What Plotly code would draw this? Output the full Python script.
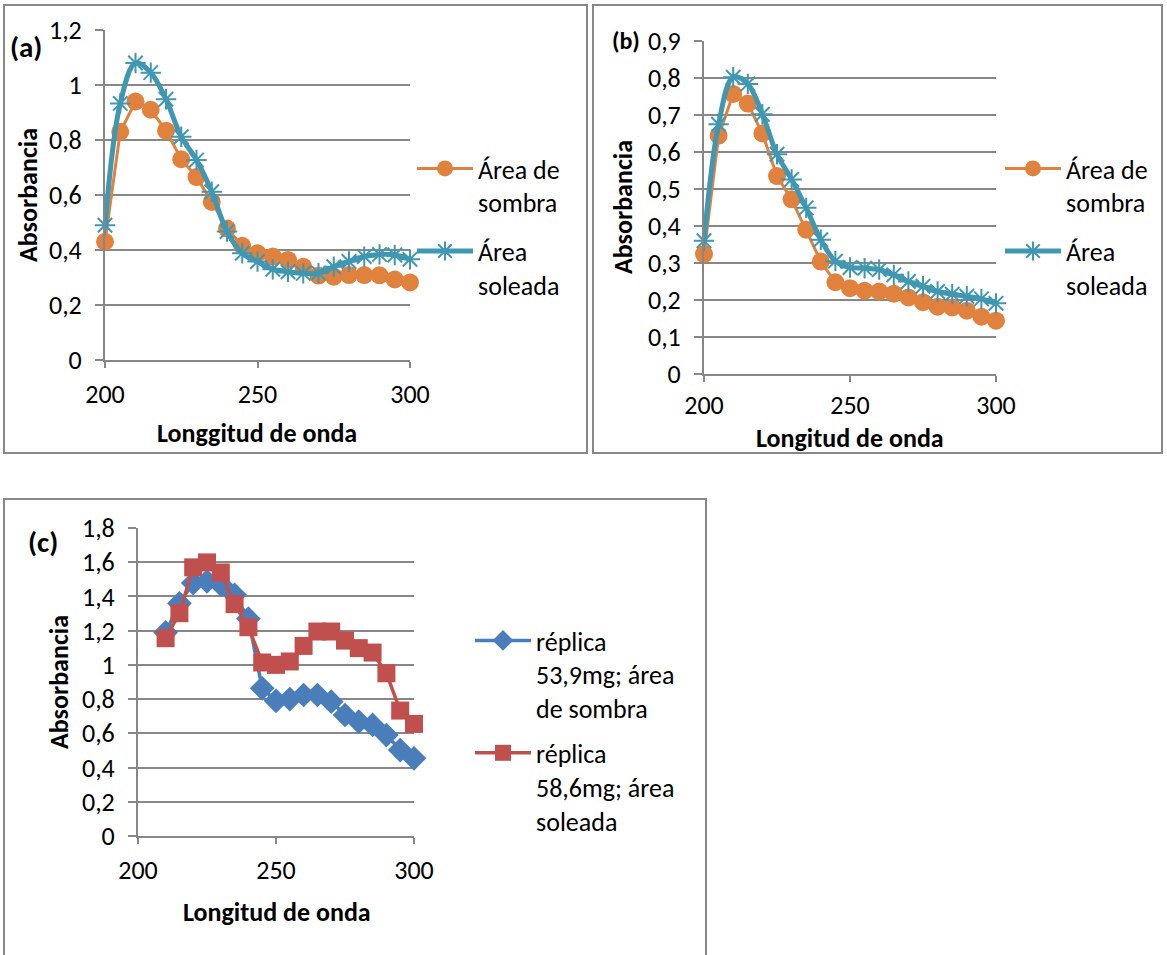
import plotly.graph_objects as go

# ---------------------------------------------------------------- data
WAVELENGTH_AB = list(range(200, 301, 5))
A_SOMBRA = [0.43, 0.83, 0.94, 0.91, 0.834, 0.73, 0.665, 0.575, 0.478, 0.415, 0.388,
            0.376, 0.364, 0.339, 0.307, 0.303, 0.309, 0.309, 0.308, 0.293, 0.282]
A_SOLEADA = [0.49, 0.933, 1.08, 1.045, 0.948, 0.812, 0.727, 0.612, 0.467, 0.388, 0.358,
             0.33, 0.321, 0.315, 0.316, 0.339, 0.358, 0.376, 0.384, 0.382, 0.366]
B_SOMBRA = [0.324, 0.644, 0.757, 0.731, 0.65, 0.535, 0.472, 0.39, 0.304, 0.248, 0.232,
            0.225, 0.223, 0.217, 0.207, 0.194, 0.182, 0.18, 0.171, 0.155, 0.144]
B_SOLEADA = [0.36, 0.675, 0.802, 0.784, 0.702, 0.594, 0.526, 0.449, 0.363, 0.305, 0.288,
             0.286, 0.282, 0.268, 0.25, 0.237, 0.223, 0.216, 0.21, 0.203, 0.191]

WAVELENGTH_C = list(range(210, 301, 5))
C_REP_539 = [1.19, 1.36, 1.478, 1.488, 1.47, 1.41, 1.27, 0.863, 0.79, 0.80, 0.824,
             0.824, 0.785, 0.707, 0.668, 0.649, 0.59, 0.502, 0.454]
C_REP_586 = [1.156, 1.302, 1.57, 1.599, 1.54, 1.355, 1.22, 1.014, 1.0, 1.02, 1.111,
             1.195, 1.195, 1.142, 1.098, 1.072, 0.951, 0.733, 0.655]

X_TICKS = [200, 250, 300]
X_LABELS = ["200", "250", "300"]
A_YTICKS = [0, 0.2, 0.4, 0.6, 0.8, 1.0, 1.2]
A_YLABELS = ["0", "0,2", "0,4", "0,6", "0,8", "1", "1,2"]
B_YTICKS = [0, 0.1, 0.2, 0.3, 0.4, 0.5, 0.6, 0.7, 0.8, 0.9]
B_YLABELS = ["0", "0,1", "0,2", "0,3", "0,4", "0,5", "0,6", "0,7", "0,8", "0,9"]
C_YTICKS = [0, 0.2, 0.4, 0.6, 0.8, 1.0, 1.2, 1.4, 1.6, 1.8]
C_YLABELS = ["0", "0,2", "0,4", "0,6", "0,8", "1", "1,2", "1,4", "1,6", "1,8"]

NAME_SOMBRA = "Área de<br>sombra"
NAME_SOLEADA = "Área<br>soleada"
NAME_539 = "réplica<br>53,9mg; área<br>de sombra"
NAME_586 = "réplica<br>58,6mg; área<br>soleada"
Y_TITLE = "Absorbancia"
X_TITLE_A = "Longgitud de onda"
X_TITLE_BC = "Longitud de onda"

# ---------------------------------------------------------------- style
W, H = 1167, 955
FONT = "Carlito, Lato, 'Noto Sans', sans-serif"
GRAY = "#878787"
ORANGE = "#E0823D"
TEAL = "#3F97B1"
BLUE = "#4A7EBB"
RED = "#C0504D"
FS = 26


def px(x):
    return x / W


def py(y):
    return 1 - y / H


fig = go.Figure()

# panel (a)
fig.add_trace(go.Scatter(
    x=WAVELENGTH_AB, y=A_SOMBRA, name=NAME_SOMBRA, mode="lines+markers",
    line=dict(color=ORANGE, width=3), marker=dict(symbol="circle", size=18, color=ORANGE),
    xaxis="x", yaxis="y", legend="legend", legendgroup="a1", cliponaxis=False))
fig.add_trace(go.Scatter(
    x=WAVELENGTH_AB, y=A_SOLEADA, name=NAME_SOLEADA, mode="lines+markers",
    line=dict(color=TEAL, width=5, shape="spline"),
    marker=dict(symbol="asterisk-open", size=17, line=dict(color=TEAL, width=2)),
    xaxis="x", yaxis="y", legend="legend", legendgroup="a2", cliponaxis=False))

# panel (b)
fig.add_trace(go.Scatter(
    x=WAVELENGTH_AB, y=B_SOMBRA, name=NAME_SOMBRA, mode="lines+markers",
    line=dict(color=ORANGE, width=3), marker=dict(symbol="circle", size=18, color=ORANGE),
    xaxis="x2", yaxis="y2", legend="legend2", legendgroup="b1", cliponaxis=False))
fig.add_trace(go.Scatter(
    x=WAVELENGTH_AB, y=B_SOLEADA, name=NAME_SOLEADA, mode="lines+markers",
    line=dict(color=TEAL, width=5, shape="spline"),
    marker=dict(symbol="asterisk-open", size=17, line=dict(color=TEAL, width=2)),
    xaxis="x2", yaxis="y2", legend="legend2", legendgroup="b2", cliponaxis=False))

# panel (c)
fig.add_trace(go.Scatter(
    x=WAVELENGTH_C, y=C_REP_539, name=NAME_539, mode="lines+markers",
    line=dict(color=BLUE, width=3.5), marker=dict(symbol="diamond", size=19, color=BLUE),
    xaxis="x3", yaxis="y3", legend="legend3", legendgroup="c1", cliponaxis=False))
fig.add_trace(go.Scatter(
    x=WAVELENGTH_C, y=C_REP_586, name=NAME_586, mode="lines+markers",
    line=dict(color=RED, width=3.5), marker=dict(symbol="square", size=18, color=RED),
    xaxis="x3", yaxis="y3", legend="legend3", legendgroup="c2", cliponaxis=False))


def xaxis(domain, anchor, label_gap=4):
    return dict(
        domain=domain, anchor=anchor, range=[200, 300], tickmode="array",
        tickvals=X_TICKS, ticktext=X_LABELS, ticks="outside", ticklen=6,
        tickwidth=2, tickcolor=GRAY, showline=True, linecolor=GRAY, linewidth=2,
        showgrid=False, zeroline=False, ticklabelstandoff=label_gap, automargin=False,
        tickfont=dict(size=FS, color="#000"))


def yaxis(domain, anchor, top, ticks, labels):
    return dict(
        domain=domain, anchor=anchor, range=[0, top], tickmode="array",
        tickvals=ticks, ticktext=labels, ticks="outside", ticklen=8,
        tickwidth=2, tickcolor=GRAY, showline=True, linecolor=GRAY, linewidth=2,
        showgrid=True, gridcolor=GRAY, gridwidth=2, zeroline=False,
        ticklabelstandoff=8, automargin=False, tickfont=dict(size=FS, color="#000"))


def legend(x, y, gap):
    return dict(
        x=x, y=y, xanchor="left", yanchor="top", bgcolor="rgba(0,0,0,0)",
        itemwidth=56, valign="top", tracegroupgap=gap, traceorder="grouped",
        font=dict(size=FS, color="#000"))


def label(text, x, y, size=FS, angle=0):
    return dict(text=f"<b>{text}</b>", x=px(x), y=py(y), xref="paper", yref="paper",
                xanchor="center", yanchor="middle", showarrow=False, textangle=angle,
                font=dict(size=size, color="#000"))


fig.update_layout(
    width=W, height=H, margin=dict(l=0, r=0, t=0, b=0, autoexpand=False),
    paper_bgcolor="white", plot_bgcolor="white",
    font=dict(family=FONT, size=FS, color="#000"),
    showlegend=True,
    xaxis=xaxis([px(105), px(410)], "y"),
    yaxis=yaxis([py(360), py(30)], "x", 1.2, A_YTICKS, A_YLABELS),
    xaxis2=xaxis([px(704), px(996)], "y2", label_gap=1),
    yaxis2=yaxis([py(374), py(41)], "x2", 0.9, B_YTICKS, B_YLABELS),
    xaxis3=xaxis([px(138), px(414)], "y3"),
    yaxis3=yaxis([py(836), py(528)], "x3", 1.8, C_YTICKS, C_YLABELS),
    legend=legend(px(412), py(145), 12),
    legend2=legend(px(1000), py(145), 12),
    legend3=legend(px(470), py(617), 8),
    shapes=[
        dict(type="rect", xref="paper", yref="paper", x0=px(4), x1=px(587),
             y0=py(453), y1=py(5), line=dict(color=GRAY, width=2)),
        dict(type="rect", xref="paper", yref="paper", x0=px(593), x1=px(1162),
             y0=py(453), y1=py(5), line=dict(color=GRAY, width=2)),
        dict(type="rect", xref="paper", yref="paper", x0=px(4), x1=px(706),
             y0=py(975), y1=py(499), line=dict(color=GRAY, width=2)),
    ],
    annotations=[
        label("(a)", 26, 47, size=29),
        label("(b)", 626, 40, size=24),
        label("(c)", 43, 542, size=29),
        label(Y_TITLE, 28, 195, angle=-90),
        label(Y_TITLE, 623, 207, angle=-90),
        label(Y_TITLE, 59, 682, angle=-90),
        label(X_TITLE_A, 257, 433),
        label(X_TITLE_BC, 850, 438),
        label(X_TITLE_BC, 277, 912),
    ],
)

fig.write_html("out.html")
